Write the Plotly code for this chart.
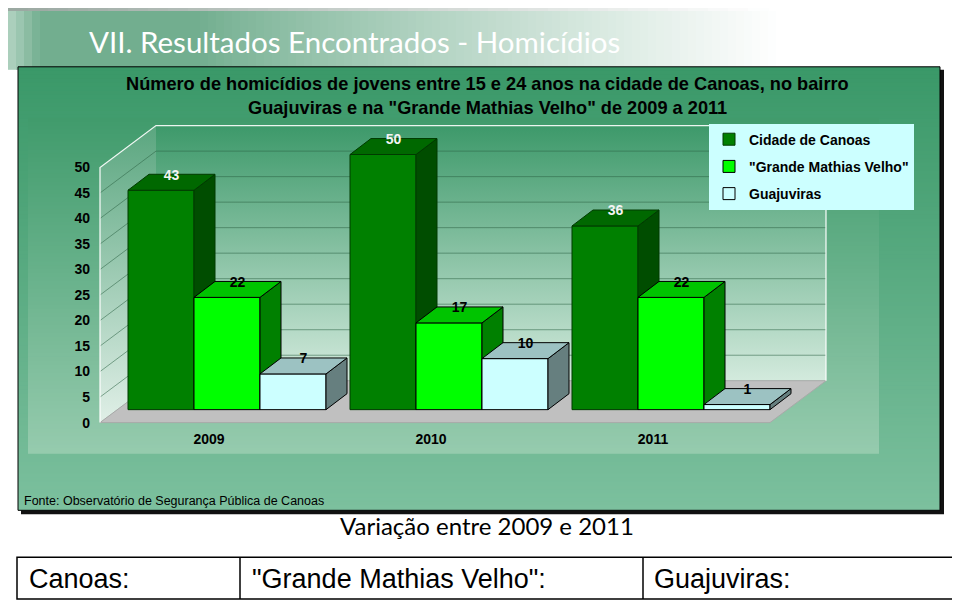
import plotly.graph_objects as go

# ---------------- data ----------------
years = ["2009", "2010", "2011"]
series_names = ["Cidade de Canoas", '"Grande Mathias Velho"', "Guajuviras"]
canoas = [43, 50, 36]
grande_mathias_velho = [22, 17, 22]
guajuviras = [7, 10, 1]
y_ticks = [0, 5, 10, 15, 20, 25, 30, 35, 40, 45, 50]

slide_title = "VII. Resultados Encontrados - Homicídios"
chart_title_1 = "Número de homicídios de jovens entre 15 e 24 anos na cidade de Canoas, no bairro"
chart_title_2 = 'Guajuviras e na "Grande Mathias Velho" de 2009 a 2011'
source_text = "Fonte: Observatório de Segurança Pública de Canoas"
variation_title = "Variação entre 2009 e 2011"
table_cells = ["Canoas:", '"Grande Mathias Velho":', "Guajuviras:"]

# ---------------- styles ----------------
# the page body has an 8px margin, so the figure is 952x596 placed at (8, 8)
OFF = 8
FW, FH = 952, 596
ARIAL = "Liberation Sans, Arial, sans-serif"
CALIBRI = "Lato, Carlito, Calibri, sans-serif"

front_colors = ["#008000", "#00ff00", "#ccffff"]
side_colors = ["#004d00", "#008000", "#667f7f"]
top_colors = ["#006800", "#00c400", "#9cc2c2"]
edge_colors = ["#003a00", "#000000", "#000000"]
label_colors = ["#f4f4f4", "#000000", "#000000"]


def PX(px):
    return (px - OFF) / FW


def PY(py):
    return 1 - (py - OFF) / FH


# pixel layout of the axes (x: category units, y: value units)
X_ORIGIN, X_SCALE = 209.0, 222.0
Y_ORIGIN, Y_SCALE = 424.0, 5.12
DOM_L, DOM_R, DOM_T, DOM_B = 95, 900, 115, 430
x_range = [(DOM_L - X_ORIGIN) / X_SCALE, (DOM_R - X_ORIGIN) / X_SCALE]
y_range = [(Y_ORIGIN - DOM_B) / Y_SCALE, (Y_ORIGIN - DOM_T) / Y_SCALE]

# 3-D look (style constants, in axis units)
WALL_X0, WALL_X1 = -0.491, 2.527
WALL_DX, WALL_DY = 56 / X_SCALE, 42 / Y_SCALE
BASE = 13 / Y_SCALE
BAR_W = 66 / X_SCALE
GROUP_SHIFT = 18 / X_SCALE
DDX, DDY = 21 / X_SCALE, 16 / Y_SCALE
TOP = max(y_ticks)


def hex2rgb(h):
    h = h.lstrip("#")
    return tuple(int(h[i:i + 2], 16) for i in (0, 2, 4))


def lerp(c1, c2, t):
    a, b = hex2rgb(c1), hex2rgb(c2)
    return "rgb(%d,%d,%d)" % tuple(round(a[i] + (b[i] - a[i]) * t) for i in range(3))


shapes = []


def vgrad(x0, x1, y0, y1, ctop, cbot, step=4):
    y = y0
    while y < y1:
        yb = min(y + step + 1, y1)
        t = ((y + min(y + step, y1)) / 2 - y0) / (y1 - y0)
        shapes.append(dict(type="rect", xref="paper", yref="paper", layer="below",
                           x0=PX(x0), x1=PX(x1), y0=PY(yb), y1=PY(y),
                           fillcolor=lerp(ctop, cbot, t), line_width=0))
        y += step


def header_color(x):
    green = "#72ae8f"
    if x < 40:
        return lerp("#c4ddd0", green, x / 40)
    if x < 200:
        return lerp(green, green, 0)
    t = min(1.0, (x - 200) / 580)
    return lerp(green, "#ffffff", t ** 0.85)


# header gradient
x = OFF
while x < 790:
    shapes.append(dict(type="rect", xref="paper", yref="paper", layer="below",
                       x0=PX(x), x1=PX(min(x + 9, 790)), y0=PY(70), y1=PY(OFF + 3),
                       fillcolor=header_color(x + 4), line_width=0))
    x += 8
x = OFF
while x < 760:
    t = x / 760
    shapes.append(dict(type="rect", xref="paper", yref="paper", layer="below",
                       x0=PX(x), x1=PX(x + 21), y0=PY(OFF + 3), y1=PY(OFF),
                       fillcolor=lerp("#9aa8a1", "#ffffff", t), line_width=0))
    x += 20

# chart box: shadow, gradient, border
shapes.append(dict(type="rect", xref="paper", yref="paper", layer="below",
                   x0=PX(21), x1=PX(944), y0=PY(516), y1=PY(70),
                   fillcolor="#111111", line_width=0))
vgrad(18, 940, 67, 512, "#3a9868", "#7cc09e")
vgrad(28, 879, 118, 455, "#409b6c", "#96cbae")
shapes.append(dict(type="rect", xref="paper", yref="paper", layer="below",
                   x0=PX(18), x1=PX(940), y0=PY(512), y1=PY(67),
                   line=dict(color="#000000", width=1)))

# bottom table
shapes.append(dict(type="rect", xref="paper", yref="paper", layer="below",
                   x0=PX(17), x1=PX(958), y0=PY(601), y1=PY(559),
                   line=dict(color="#000000", width=1.5)))
for xd in (240, 643):
    shapes.append(dict(type="line", xref="paper", yref="paper", layer="below",
                       x0=PX(xd), x1=PX(xd), y0=PY(601), y1=PY(559),
                       line=dict(color="#000000", width=1.5)))

fig = go.Figure()

# ---------------- walls / floor / grid (main subplot) ----------------
bx0, bx1 = WALL_X0 + WALL_DX, WALL_X1 + WALL_DX
fig.add_trace(go.Scatter(
    x=[WALL_X0, WALL_X0, bx0, bx0, WALL_X0],
    y=[0, TOP, TOP + WALL_DY, WALL_DY, 0],
    fill="toself", mode="lines", line=dict(width=0),
    fillgradient=dict(type="vertical", colorscale=[[0, "#e0efe7"], [1, "#5aa67f"]]),
    showlegend=False, hoverinfo="skip"))
fig.add_trace(go.Scatter(
    x=[bx0, bx1, bx1, bx0, bx0],
    y=[WALL_DY, WALL_DY, TOP + WALL_DY, TOP + WALL_DY, WALL_DY],
    fill="toself", mode="lines", line=dict(width=0),
    fillgradient=dict(type="vertical", colorscale=[[0, "#d3eadd"], [1, "#3d996a"]]),
    showlegend=False, hoverinfo="skip"))
gx, gy = [], []
for v in y_ticks[1:-1]:
    gx += [WALL_X0, bx0, bx1, None]
    gy += [v, v + WALL_DY, v + WALL_DY, None]
fig.add_trace(go.Scatter(x=gx, y=gy, mode="lines",
                         line=dict(color="rgba(45,100,70,0.55)", width=1),
                         showlegend=False, hoverinfo="skip"))
fig.add_trace(go.Scatter(
    x=[WALL_X0, WALL_X1, bx1, bx0, WALL_X0],
    y=[0, 0, WALL_DY, WALL_DY, 0],
    fill="toself", fillcolor="#c0c0c0", mode="lines",
    line=dict(color="#a9a9a9", width=1), showlegend=False, hoverinfo="skip"))
fig.add_trace(go.Scatter(
    x=[WALL_X0, WALL_X0, bx0, bx1, bx1],
    y=[0, TOP, TOP + WALL_DY, TOP + WALL_DY, WALL_DY],
    mode="lines", line=dict(color="rgba(255,255,255,0.9)", width=1.3),
    showlegend=False, hoverinfo="skip"))

# ---------------- bars (one overlay layer per series) ----------------
all_series = [canoas, grande_mathias_velho, guajuviras]
for j, vals in enumerate(all_series):
    xa, ya = "x%d" % (j + 2), "y%d" % (j + 2)
    cxs = [i + GROUP_SHIFT + (j - 1) * BAR_W for i in range(len(years))]
    fig.add_trace(go.Bar(
        x=cxs, y=vals, base=BASE, width=BAR_W, xaxis=xa, yaxis=ya,
        name="<b>%s</b>" % series_names[j], legendgroup="g%d" % j,
        marker=dict(color=front_colors[j], line=dict(color=edge_colors[j], width=1)),
        hoverinfo="skip"))
    sx, sy, tx, ty = [], [], [], []
    for cx, v in zip(cxs, vals):
        xl, xr = cx - BAR_W / 2, cx + BAR_W / 2
        sx += [xr, xr + DDX, xr + DDX, xr, xr, None]
        sy += [BASE, BASE + DDY, BASE + v + DDY, BASE + v, BASE, None]
        tx += [xl, xr, xr + DDX, xl + DDX, xl, None]
        ty += [BASE + v, BASE + v, BASE + v + DDY, BASE + v + DDY, BASE + v, None]
    fig.add_trace(go.Scatter(x=sx, y=sy, xaxis=xa, yaxis=ya, fill="toself",
                             fillcolor=side_colors[j], mode="lines",
                             line=dict(color=edge_colors[j], width=1),
                             showlegend=False, hoverinfo="skip"))
    fig.add_trace(go.Scatter(x=tx, y=ty, xaxis=xa, yaxis=ya, fill="toself",
                             fillcolor=top_colors[j], mode="lines",
                             line=dict(color=edge_colors[j], width=1),
                             showlegend=False, hoverinfo="skip"))

# value labels (top layer)
for j, vals in enumerate(all_series):
    cxs = [i + GROUP_SHIFT + (j - 1) * BAR_W for i in range(len(years))]
    fig.add_trace(go.Scatter(
        x=[cx + DDX / 2 for cx in cxs],
        y=[BASE + v + DDY / 2 + 1.2 for v in vals],
        text=["<b>%d</b>" % v for v in vals], mode="text", xaxis="x4", yaxis="y4",
        textfont=dict(family=ARIAL, size=14, color=label_colors[j]),
        cliponaxis=False, showlegend=False, hoverinfo="skip"))

# ---------------- layout ----------------
dom_x = [PX(DOM_L), PX(DOM_R)]
dom_y = [PY(DOM_B), PY(DOM_T)]
tick_font = dict(family=ARIAL, size=14, color="#000000", weight="bold")
layout_axes = dict(
    xaxis=dict(domain=dom_x, range=x_range, showgrid=False, zeroline=False,
               showline=False, tickvals=[0, 1, 2], ticktext=years, ticks="",
               tickfont=tick_font),
    yaxis=dict(domain=dom_y, range=y_range, showgrid=False, zeroline=False,
               showline=False, tickvals=y_ticks, ticks="", ticklabelstandoff=4,
               tickfont=tick_font),
)
for k in (2, 3, 4):
    layout_axes["xaxis%d" % k] = dict(overlaying="x", range=x_range, visible=False,
                                      showgrid=False, zeroline=False)
    layout_axes["yaxis%d" % k] = dict(overlaying="y", range=y_range, visible=False,
                                      showgrid=False, zeroline=False)

annotations = [
    dict(text=slide_title, x=PX(87), y=PY(42), xanchor="left", yanchor="middle",
         font=dict(family=CALIBRI, size=29.5, color="#ffffff")),
    dict(text="<b>%s</b>" % chart_title_1, x=PX(487), y=PY(84), xanchor="center",
         yanchor="middle", font=dict(family=ARIAL, size=18.2, color="#000000")),
    dict(text="<b>%s</b>" % chart_title_2, x=PX(487), y=PY(108), xanchor="center",
         yanchor="middle", font=dict(family=ARIAL, size=18.2, color="#000000")),
    dict(text=source_text, x=PX(22), y=PY(503), xanchor="left", yanchor="middle",
         font=dict(family=ARIAL, size=12.5, color="#000000")),
    dict(text=variation_title, x=PX(487), y=PY(527), xanchor="center", yanchor="middle",
         font=dict(family=CALIBRI, size=24, color="#000000")),
]
for txt, xl in zip(table_cells, (27, 250, 652)):
    annotations.append(dict(text=txt, x=PX(xl), y=PY(581), xanchor="left",
                            yanchor="middle",
                            font=dict(family=ARIAL, size=27, color="#000000")))
for a in annotations:
    a.update(xref="paper", yref="paper", showarrow=False)

fig.update_layout(
    width=FW, height=FH, margin=dict(l=0, r=0, t=0, b=0),
    paper_bgcolor="#ffffff", plot_bgcolor="rgba(0,0,0,0)",
    barmode="overlay", shapes=shapes, annotations=annotations,
    legend=dict(x=PX(709), y=PY(124), xanchor="left", yanchor="top",
                bgcolor="#ccffff", borderwidth=0, traceorder="grouped",
                tracegroupgap=6, font=dict(family=ARIAL, size=14, color="#000000"),
                itemclick=False, itemdoubleclick=False),
    **layout_axes,
)

fig.write_html("out.html")
